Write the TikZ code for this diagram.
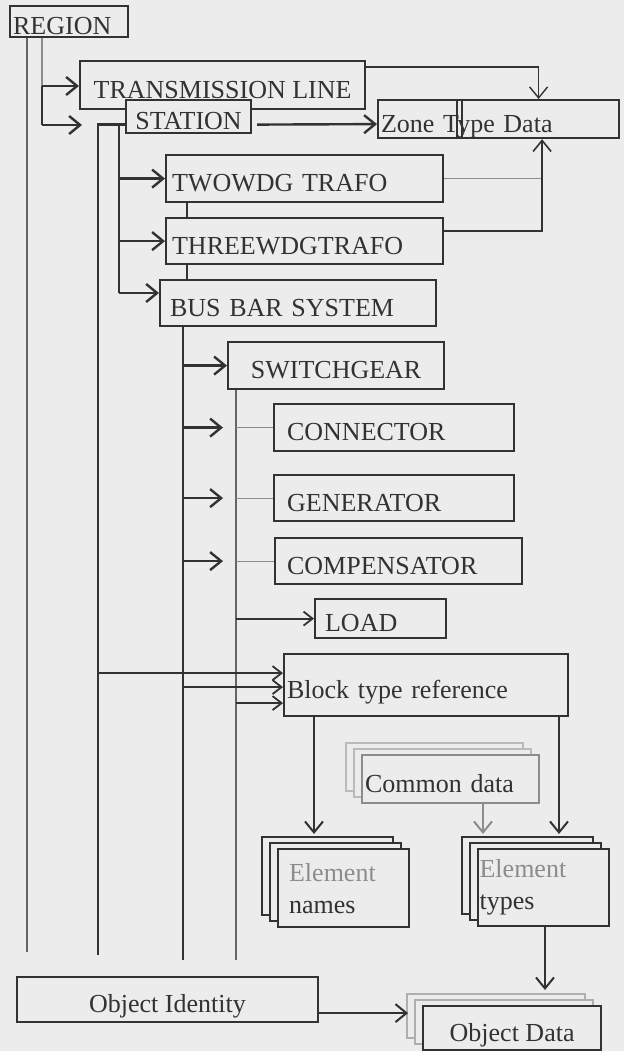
\documentclass[tikz,border=0pt]{standalone}
\usepackage{fontspec}
\setmainfont{Liberation Serif}
\usetikzlibrary{arrows.meta,positioning,shadows}
\definecolor{paper}{RGB}{236,236,236}
\definecolor{ink}{RGB}{50,50,50}
\definecolor{faint}{RGB}{140,140,140}

\begin{document}
\begin{tikzpicture}[x=1pt,y=-1pt,>={Straight Barb[length=11pt,width=18pt]},font=\fontsize{26}{32}\selectfont,
    boxbase/.style={rectangle, draw=ink, fill=paper, line width=2.2pt, anchor=north west, inner sep=0pt, text=ink},
    boxnode/.style={boxbase, text height=26pt, text depth=0pt},
    leftnode/.style={boxnode, align=left},
    stacknode/.style={boxbase, align=left},
    layer/.style={copy shadow={shadow xshift=-16pt, shadow yshift=12pt, fill=paper, draw=#1, opacity=1},
                  copy shadow={shadow xshift=-8pt, shadow yshift=6pt, fill=paper, draw=#1, opacity=1}},
    link/.style={draw=ink, line width=2.4pt},
    arr/.style={link, ->},
    smallarr/.style={link, line width=1.8pt, -{Straight Barb[length=9pt,width=14pt]}},
    thinlink/.style={draw=ink!75, line width=1.1pt}]
  \path[use as bounding box, fill=paper] (0,0) rectangle (624,1051);

  % hierarchy boxes
  \node[leftnode, text width=112pt, inner xsep=3pt, minimum height=31pt] (region) at (9,5) {REGION};
  \node[boxnode, minimum width=285pt, minimum height=48pt] (trans) at (79,60) {TRANSMISSION LINE};
  \node[boxnode, minimum width=125pt, minimum height=33pt] (station) at (125,99) {STATION};
  \node[leftnode, text width=235pt, inner xsep=3pt, minimum height=38pt] (zone) at (377,99) {Zone Type Data};
  \node[leftnode, text width=265pt, inner xsep=6pt, minimum height=47pt] (twowdg) at (165,154) {TWOWDG TRAFO};
  \node[leftnode, text width=265pt, inner xsep=6pt, minimum height=46pt] (three) at (165,217) {THREEWDGTRAFO};
  \node[leftnode, text width=256pt, inner xsep=10pt, minimum height=46pt] (bus) at (159,279) {BUS BAR SYSTEM};
  \node[boxnode, minimum width=216pt, minimum height=47pt] (switch) at (227,341) {SWITCHGEAR};
  \node[leftnode, text width=214pt, inner xsep=13pt, minimum height=47pt] (conn) at (273,403) {CONNECTOR};
  \node[leftnode, text width=214pt, inner xsep=13pt, minimum height=46pt] (gen) at (273,474) {GENERATOR};
  \node[leftnode, text width=223pt, inner xsep=12pt, minimum height=46pt] (comp) at (274,537) {COMPENSATOR};
  \node[leftnode, text width=111pt, inner xsep=10pt, minimum height=39pt] (load) at (314,598) {LOAD};
  \node[leftnode, text width=278pt, inner xsep=3pt, minimum height=62pt] (block) at (283,653) {Block type reference};

  % data boxes
  \node[leftnode, layer=faint!60, draw=faint, text width=171pt, inner xsep=3pt, minimum height=48pt] (common) at (361,754) {Common data};
  \node[stacknode, layer=ink, text width=109pt, inner xsep=11pt, minimum height=78pt] (names) at (277,848) {\textcolor{faint}{Element}\\names};
  \node[stacknode, layer=ink, text width=128pt, inner xsep=1.5pt, minimum height=77pt] (types) at (477,848) {\textcolor{faint}{Element}\\types};
  \node[boxnode, line width=1.8pt, minimum width=301pt, minimum height=45pt] (objid) at (16,976) {Object Identity};
  \node[boxnode, layer=faint!70, minimum width=178pt, minimum height=44pt] (objdata) at (422,1005) {Object Data};

  % split of the zone box
  \draw[line width=2.2pt, draw=ink] ([xshift=80pt]zone.north west) -- ([xshift=80pt]zone.south west)
                                    ([xshift=85pt]zone.north west) -- ([xshift=85pt]zone.south west);

  % free ends
  \coordinate (regEnd) at (27,952);
  \coordinate (brTop) at (42,86);
  \coordinate (brBot) at (42,125);
  \coordinate (brTip) at (82,125);
  \coordinate (stEnd) at (98,955);
  \coordinate (subTop) at (119,124);
  \coordinate (subBot) at (119,293);
  \coordinate (busEnd) at (183,960);
  \coordinate (busTip) at (223,0);
  \coordinate (swEnd) at (236,960);
  \coordinate (zoneIn) at ([xshift=43.5pt]zone.south);
  \coordinate (inA) at ([yshift=12pt]block.west);
  \coordinate (inB) at ([yshift=-2pt]block.west);
  \coordinate (inC) at ([yshift=-18pt]block.west);
  \coordinate (nmTop) at ([xshift=37pt,yshift=14pt]names.north west);
  \coordinate (tpTop) at ([xshift=82pt,yshift=14pt]types.north west);
  \coordinate (cmTop) at ([xshift=6pt,yshift=14pt]types.north west);
  \coordinate (odTop) at ([xshift=123pt,yshift=15pt]objdata.north west);
  \coordinate (odIn) at ([xshift=-14pt,yshift=15pt]objdata.west);

  % region
  \draw[thinlink] ([xshift=18pt]region.south west) -- (regEnd);
  \draw[thinlink, draw=faint] ([xshift=33pt]region.south west) -- (brTop);
  \draw[link] (brTop) -- (brBot);
  \draw[arr] (brTop) -- (trans.west |- brTop);
  \draw[arr] (brBot) -- (brTip);

  % transmission line and station
  \draw[arr, line width=1.4pt] ([yshift=-7pt]trans.north east) -| ([xshift=40pt]zone.north);
  \draw[arr] ([xshift=5pt,yshift=-8pt]station.east) -- ([yshift=-5pt]zone.west);
  \draw[link] ([yshift=-8pt]station.west) -| (stEnd);
  \draw[link] (subTop) -- (subBot);
  \draw[arr] (twowdg.west -| subTop) -- (twowdg.west);
  \draw[arr] (three.west -| subTop) -- (three.west);
  \draw[arr] (subBot) -- (subBot -| bus.west);
  \draw[link] ([xshift=22pt]twowdg.south west) -- ([xshift=22pt]three.north west);
  \draw[link] ([xshift=22pt]three.south west) -- ([xshift=28pt]bus.north west);
  \draw[thinlink, draw=faint] (twowdg.east) -- (twowdg.east -| zoneIn);
  \draw[arr, line width=1.6pt] ([yshift=10pt]three.east) -| (zoneIn);

  % bus bar system
  \draw[link] ([xshift=24pt]bus.south west) -- (busEnd);
  \draw[arr] (switch.west -| busEnd) -- (switch.west);
  \draw[arr] (conn.west -| busEnd) -- (conn.west -| busTip);
  \draw[arr] (gen.west -| busEnd) -- (gen.west -| busTip);
  \draw[arr] (comp.west -| busEnd) -- (comp.west -| busTip);

  % switchgear
  \draw[thinlink] ([xshift=9pt]switch.south west) -- (swEnd);
  \draw[thinlink, draw=faint] (conn.west -| swEnd) -- (conn.west);
  \draw[thinlink, draw=faint] (gen.west -| swEnd) -- (gen.west);
  \draw[thinlink, draw=faint] (comp.west -| swEnd) -- (comp.west);
  \draw[smallarr] (load.west -| swEnd) -- (load.west);

  % block type reference
  \draw[smallarr] (inA -| stEnd) -- (inA);
  \draw[smallarr] (inB -| busEnd) -- (inB);
  \draw[smallarr] (inC -| swEnd) -- (inC);
  \draw[arr, line width=2pt] (block.south -| nmTop) -- (nmTop);
  \draw[arr, line width=2pt] (block.south -| tpTop) -- (tpTop);
  \draw[arr, line width=2pt, draw=faint] (common.south -| cmTop) -- (cmTop);

  % objects
  \draw[arr, line width=2pt] (types.south -| odTop) -- (odTop);
  \draw[arr, line width=2pt] (objid.east |- odIn) -- (odIn);
\end{tikzpicture}
\end{document}
